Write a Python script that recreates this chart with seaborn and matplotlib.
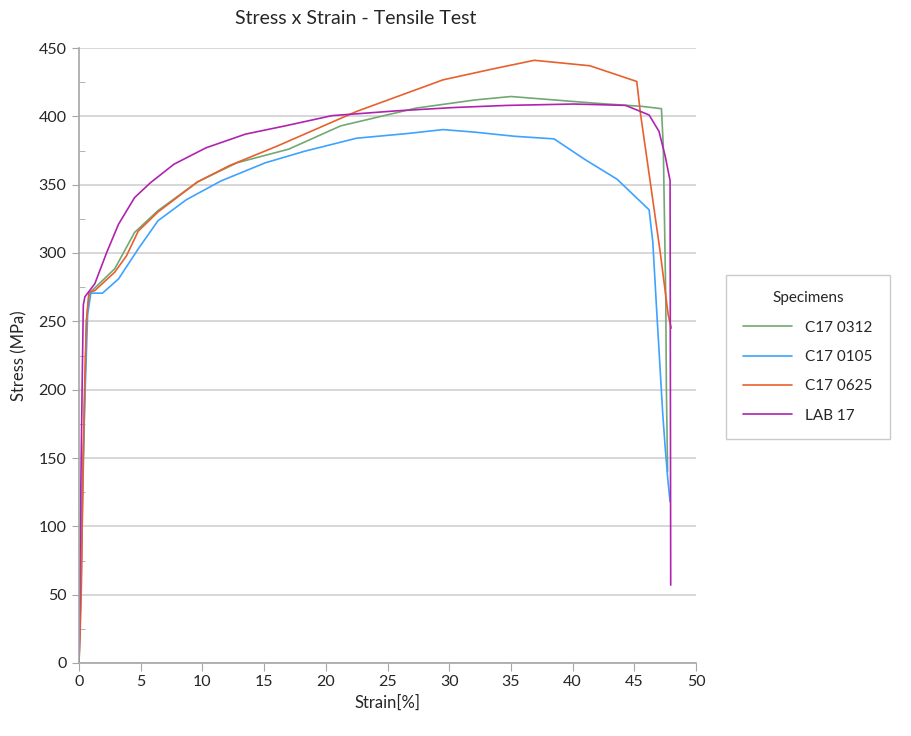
import numpy as np
import pandas as pd
import matplotlib
matplotlib.use("Agg")
import matplotlib.pyplot as plt
from matplotlib.ticker import MultipleLocator
import seaborn as sns

# ---- data ----
specimens = ["C17 0312", "C17 0105", "C17 0625", "LAB 17"]

strain_c17_0312 = [0, 0.15, 0.3, 0.45, 0.6, 0.8, 1.0, 2.9, 4.5, 6.4, 9.6, 12.8, 17.0, 21.2, 27.3,
                   32.1, 35.0, 38.5, 41.7, 45.6, 47.2, 47.35, 47.45, 47.55, 47.6, 47.7]
stress_c17_0312 = [0, 50, 120, 190, 250, 268, 272, 288.5, 315, 331, 352, 366, 376, 393, 406,
                   412, 414.5, 412, 409.7, 407.3, 405.6, 378, 322, 266.5, 200, 140]

strain_c17_0105 = [0, 0.15, 0.3, 0.5, 0.7, 0.96, 1.9, 3.2, 4.8, 6.4, 8.7, 11.5, 15.1, 18.3, 22.5,
                   26.6, 29.5, 32.1, 35.3, 38.5, 41.0, 43.6, 46.2, 46.5, 46.8, 47.1, 47.3, 47.5,
                   47.7, 47.9]
stress_c17_0105 = [0, 60, 140, 200, 255, 270.6, 270.6, 281, 303, 323.6, 339, 352.7, 366, 374.5, 384,
                   387.4, 390.3, 388.4, 385.4, 383.5, 368.4, 354, 331.6, 308, 260, 214, 183, 158,
                   136, 118]

strain_c17_0625 = [0, 0.1, 0.2, 0.3, 0.45, 0.6, 0.8, 1.28, 2.9, 3.85, 4.8, 6.4, 9.6, 12.2, 16.0,
                   22.5, 29.5, 33.7, 36.9, 41.4, 45.2, 45.5, 46.3, 47.1, 47.75, 48.0]
stress_c17_0625 = [0, 25, 60, 130, 200, 250, 271, 272.5, 286, 298, 316, 330, 352, 364, 378,
                   403.6, 426.7, 435, 441, 437, 425.5, 402, 351.5, 300.6, 254.6, 245]

strain_lab_17 = [0, 0.05, 0.15, 0.25, 0.35, 0.48, 1.28, 2.25, 3.2, 4.5, 5.8, 7.7, 10.3, 13.5, 16.7,
                 20.5, 25.7, 30.5, 34.7, 40.1, 44.3, 46.2, 47.0, 47.5, 47.9, 47.95]
stress_lab_17 = [0, 50, 130, 200, 262, 268, 277.5, 300.5, 321, 340.5, 351.5, 365, 377, 387, 393,
                 400.5, 404, 406.5, 408, 409, 408, 401, 389, 371, 353, 57]

x_ticks = [0, 5, 10, 15, 20, 25, 30, 35, 40, 45, 50]
y_ticks = [0, 50, 100, 150, 200, 250, 300, 350, 400, 450]

colors = ["#72a872", "#3ea2ff", "#e8602e", "#b023b0"]

frames = []
for name, xs, ys in zip(specimens,
                        [strain_c17_0312, strain_c17_0105, strain_c17_0625, strain_lab_17],
                        [stress_c17_0312, stress_c17_0105, stress_c17_0625, stress_lab_17]):
    frames.append(pd.DataFrame({"Strain": xs, "Stress": ys, "Specimen": name,
                                "order": np.arange(len(xs))}))
df = pd.concat(frames, ignore_index=True)

sns.set_style("white")
plt.rcParams["font.family"] = ["Lato", "DejaVu Sans"]

fig = plt.figure(figsize=(9.12, 7.36), dpi=100)
ax = fig.add_axes([79 / 912, 1 - 663 / 736, (696 - 79) / 912, (663 - 48) / 736])

sns.lineplot(data=df, x="Strain", y="Stress", hue="Specimen", hue_order=specimens,
             palette=colors, sort=False, estimator=None, linewidth=1.2, ax=ax)

ax.set_xlim(0, 50)
ax.set_ylim(0, 450)
ax.set_xticks(x_ticks)
ax.set_yticks(y_ticks)
ax.yaxis.set_minor_locator(MultipleLocator(25))
ax.grid(axis="y", color="#d4d4d4", linewidth=1.3)
ax.grid(axis="x", visible=False)
ax.set_axisbelow(True)

for s in ["top", "right"]:
    ax.spines[s].set_visible(False)
ax.spines["left"].set_color("#a6a6a6")
ax.spines["bottom"].set_color("#a6a6a6")
ax.spines["left"].set_linewidth(1.2)
ax.spines["bottom"].set_linewidth(1.2)

ax.tick_params(axis="x", which="major", direction="out", length=6, color="#a6a6a6",
               labelsize=11.5, pad=3, bottom=True)
ax.tick_params(axis="y", which="major", direction="out", length=5, color="#a6a6a6",
               labelsize=11.5, pad=4, left=True)
ax.tick_params(axis="y", which="minor", direction="in", length=4, color="#a6a6a6", left=True)

ax.set_xlabel("Strain[%]", fontsize=12, labelpad=4)
ax.set_ylabel("Stress (MPa)", fontsize=12, labelpad=8)

fig.text(356 / 912, 1 - 18 / 736, "Stress x Strain - Tensile Test", ha="center", va="center",
         fontsize=14)

handles, labels = ax.get_legend_handles_labels()
ax.legend(handles, labels, title="Specimens", loc="center left",
          bbox_to_anchor=(726 / 912, 1 - 357 / 736), bbox_transform=fig.transFigure,
          borderaxespad=0, frameon=True, fancybox=False, edgecolor="#bfbfbf",
          fontsize=11, title_fontsize=11, handlelength=3.2, borderpad=1.1,
          labelspacing=1.0, handletextpad=0.9)

fig.savefig("out.png", dpi=100)
